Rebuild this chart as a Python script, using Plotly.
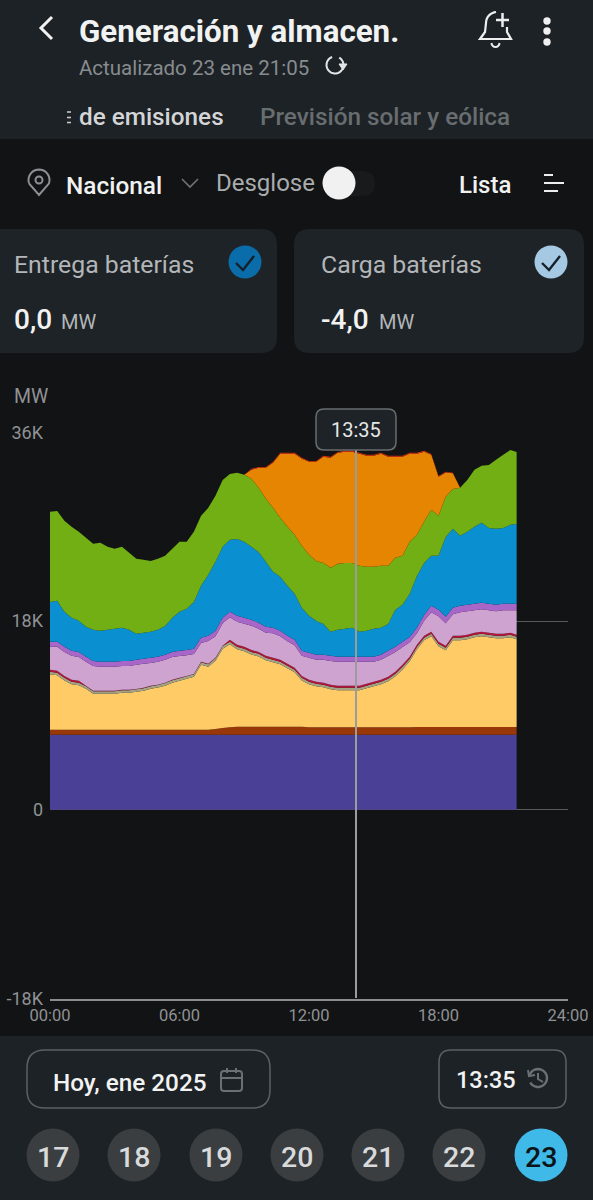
import math
import numpy as np
import plotly.graph_objects as go

W, H = 593, 1200

# Sampling instants of the day, in hours (every 20 minutes, last sample at the feed's end)
hours = [i / 3 for i in range(65)] + [21.62]

# Upper edge of each generation band, MW
total_top = [
    28430, 28520, 27570, 27000, 26520, 25950, 25380, 25470, 25090, 24900,
    25090, 24520, 23950, 23850, 23750, 23950, 24230, 24900, 25570, 25570,
    26520, 28050, 28810, 29960, 31480, 32050, 32150, 31960, 32530, 32720,
    32720, 33200, 34060, 34060, 34060, 33580, 33290, 33290, 33770, 33680,
    34150, 34250, 34250, 34060, 33870, 33870, 34060, 33770, 33770, 33770,
    34060, 34060, 34250, 33960, 31860, 32250, 32150, 30720, 31480, 32440,
    32820, 32910, 33390, 33870, 34340, 34150,
]
wind_top = [
    28430, 28520, 27570, 27000, 26520, 25950, 25380, 25470, 25090, 24900,
    25090, 24520, 23950, 23850, 23750, 23950, 24230, 24900, 25570, 25570,
    26520, 28050, 28810, 29960, 31480, 32050, 32150,
    31960, 31580, 30720, 29670, 28810, 27860, 27000, 26240, 25190, 24330,
    23750, 23560, 23090, 23470, 23560, 23560, 23280, 23180, 23180, 23280,
    23280, 24040, 24230, 25570, 26240, 27480, 28620, 28050, 29860, 30620,
    30720, 31480, 32440, 32820, 32910, 33390, 33870, 34340, 34150,
]
hydro_top = [
    19840, 19940, 18890, 18320, 18030, 17460, 17170, 17080, 17170, 17270,
    17360, 17170, 16790, 16890, 16980, 17170, 17550, 18320, 18890, 19180,
    19840, 21370, 22420, 23660, 25090, 25760, 25850, 25570, 25090, 24610,
    23660, 22710, 22230, 21370, 20610, 19270, 18510, 18030, 17740, 16980,
    17170, 17270, 17360, 16980, 17080, 17270, 17360, 17740, 19080, 19560,
    20610, 22320, 23560, 24230, 24230, 26040, 26810, 26140, 26520, 27000,
    27380, 26900, 26810, 26900, 27190, 27280,
]
thermal_top = [
    16030, 16030, 15550, 15170, 15070, 14600, 14210, 14120, 14120, 14120,
    14210, 14210, 14310, 14410, 14500, 14600, 14790, 15070, 15170, 15260,
    15360, 16410, 16600, 17080, 18320, 18890, 18510, 18320, 18130, 17840,
    17460, 17360, 17080, 16600, 16220, 15170, 14980, 14790, 14790, 14690,
    14600, 14600, 14600, 14600, 14600, 14600, 14790, 15170, 15550, 16030,
    16500, 17360, 18600, 19460, 19080, 18410, 19270, 19460, 19560, 19650,
    19750, 19650, 19560, 19650, 19650, 19650,
]
cogeneration_top = [
    13360, 13260, 12780, 12400, 12310, 11830, 11350, 11350, 11350, 11350,
    11450, 11450, 11540, 11640, 11830, 11930, 12120, 12400, 12590, 12780,
    12970, 14120, 13930, 14500, 15650, 16220, 15740, 15550, 15260, 15070,
    14690, 14500, 14310, 13930, 13550, 12780, 12400, 12210, 12120, 11930,
    11830, 11830, 11830, 11830, 12020, 12210, 12400, 12690, 13170, 13830,
    14600, 15740, 16600, 16980, 16030, 15650, 16600, 16600, 16700, 16890,
    16980, 16890, 16790, 16790, 16890, 16700,
]
coal_top = [
    7630, 7630, 7630, 7630, 7630, 7630, 7630, 7630, 7630, 7630,
    7630, 7630, 7630, 7630, 7630, 7630, 7630, 7630, 7630, 7630,
    7630, 7630, 7650, 7720, 7800, 7880, 7920, 7920, 7920, 7920,
    7920, 7920, 7920, 7920, 7920, 7920, 7870, 7870, 7870, 7870,
    7870, 7870, 7870, 7870, 7870, 7870, 7870, 7870, 7870, 7870,
    7870, 7900, 7900, 7900, 7900, 7900, 7900, 7900, 7900, 7900,
    7900, 7900, 7900, 7900, 7900, 7900,
]

# Thin bands, MW
thermal_band = [
    480, 480, 480, 480, 480, 480, 480, 480, 480, 480,
    480, 480, 480, 480, 480, 480, 480, 480, 500, 500,
    500, 500, 500, 520, 520, 520, 560, 560, 560, 560,
    560, 520, 520, 520, 520, 480, 480, 480, 480, 480,
    480, 480, 480, 480, 480, 480, 480, 500, 500, 500,
    520, 520, 560, 600, 600, 600, 600, 620, 620, 620,
    620, 620, 620, 620, 620, 620,
]
other_band = [
    190, 190, 190, 190, 190, 30, 30, 30, 30, 30,
    30, 30, 30, 30, 30, 30, 30, 30, 30, 30,
    30, 30, 30, 30, 30, 190, 190, 190, 190, 190,
    190, 190, 190, 190, 190, 190, 190, 190, 190, 190,
    190, 190, 190, 190, 190, 190, 190, 190, 190, 190,
    190, 190, 190, 190, 190, 190, 190, 190, 190, 190,
    190, 190, 190, 190, 190, 190,
]
waste_band = [
    240, 240, 240, 240, 240, 240, 240, 240, 240, 240,
    240, 240, 240, 240, 240, 240, 240, 240, 240, 240,
    240, 240, 240, 240, 240, 240, 240, 240, 240, 240,
    240, 240, 240, 240, 240, 240, 240, 240, 240, 240,
    240, 240, 240, 240, 240, 240, 240, 240, 240, 240,
    240, 240, 240, 240, 240, 240, 240, 240, 240, 240,
    240, 240, 240, 240, 240, 240,
]
solar_thermal_band = [
    0, 0, 0, 0, 0, 0, 0, 0, 0, 0,
    0, 0, 0, 0, 0, 0, 0, 0, 0, 0,
    0, 0, 0, 0, 0, 0, 0, 0, 90, 90,
    90, 90, 90, 90, 90, 90, 90, 90, 90, 90,
    90, 90, 90, 90, 90, 90, 90, 90, 90, 90,
    90, 90, 90, 90, 90, 60, 30, 0, 0, 0,
    0, 0, 0, 0, 0, 0,
]
nuclear = [7160] * len(hours)

tick_hours = [0, 6, 12, 18, 24]
tick_hour_labels = ["00:00", "06:00", "12:00", "18:00", "24:00"]
tick_power = [-18000, 0, 18000, 36000]
tick_power_labels = ["-18K", "0", "18K", "36K"]
cursor_label = "13:35"
day_numbers = ["17", "18", "19", "20", "21", "22", "23"]

PAGE = "#121314"
PANEL = "#1D2226"
FONT = "Roboto"

# Bands derived from the edges, bottom to top
a = {k: np.array(v, dtype=float) for k, v in dict(
    total=total_top, wind=wind_top, hydro=hydro_top, thermal=thermal_top,
    cog=cogeneration_top, coal=coal_top, tb=thermal_band, ob=other_band,
    wb=waste_band, stb=solar_thermal_band, nuc=nuclear).items()}
bands = [
    ("Nuclear", a["nuc"], "#4A4196"),
    ("Carbón", a["coal"] - a["nuc"], "#983808"),
    ("Ciclo combinado", a["cog"] - a["ob"] - a["wb"] - a["coal"], "#FFCB66"),
    ("Residuos", a["wb"], "#A3A383"),
    ("Otras", a["ob"], "#B3153A"),
    ("Cogeneración", a["thermal"] - a["tb"] - a["cog"], "#CFA3D0"),
    ("Térmica", a["tb"], "#A866C8"),
    ("Hidráulica", a["hydro"] - a["thermal"], "#0A8FD1"),
    ("Eólica", a["wind"] - a["hydro"], "#72AF14"),
    ("Solar", a["total"] - a["wind"] - a["stb"], "#E58502"),
    ("Termosolar", a["stb"], "#DC2F14"),
]

fig = go.Figure()
for name, values, color in bands:
    fig.add_trace(go.Scatter(
        x=hours, y=np.clip(values, 0, None).tolist(), name=name, mode="none",
        stackgroup="mix", fillcolor=color, hoverinfo="skip", showlegend=False,
    ))


def P(x, y):
    return f"{x / W:.5f} {1 - y / H:.5f}"


shapes = []


def path(d, fill=None, line=None, width=0, layer="above"):
    shapes.append(dict(
        type="path", xref="paper", yref="paper", path=d, layer=layer,
        fillcolor=fill or "rgba(0,0,0,0)",
        line=dict(color=line or "rgba(0,0,0,0)", width=width),
    ))


def rrect(x0, y0, x1, y1, r, fill=None, line=None, width=0, layer="above"):
    d = (f"M {P(x0 + r, y0)} L {P(x1 - r, y0)} Q {P(x1, y0)} {P(x1, y0 + r)} "
         f"L {P(x1, y1 - r)} Q {P(x1, y1)} {P(x1 - r, y1)} L {P(x0 + r, y1)} "
         f"Q {P(x0, y1)} {P(x0, y1 - r)} L {P(x0, y0 + r)} Q {P(x0, y0)} {P(x0 + r, y0)} Z")
    path(d, fill, line, width, layer)


def poly(pts, line, width=2, fill=None, closed=False):
    d = "M " + " L ".join(P(x, y) for x, y in pts) + (" Z" if closed else "")
    path(d, fill, line, width)


def arc(cx, cy, r, a0, a1, n=24, ry=None):
    ry = ry or r
    return [(cx + r * math.cos(math.radians(a0 + (a1 - a0) * i / n)),
             cy + ry * math.sin(math.radians(a0 + (a1 - a0) * i / n))) for i in range(n + 1)]


def circle(cx, cy, r, fill=None, line=None, width=0):
    shapes.append(dict(
        type="circle", xref="paper", yref="paper", x0=(cx - r) / W, x1=(cx + r) / W,
        y0=1 - (cy + r) / H, y1=1 - (cy - r) / H, layer="above",
        fillcolor=fill or "rgba(0,0,0,0)",
        line=dict(color=line or "rgba(0,0,0,0)", width=width),
    ))


notes = []


def text(x, y, s, size, color, weight=400, anchor="left"):
    notes.append(dict(
        xref="paper", yref="paper", x=x / W, y=1 - y / H, text=s, showarrow=False,
        xanchor=anchor, yanchor="middle", align=anchor, borderpad=0, borderwidth=0,
        font=dict(family=FONT, size=size, color=color, weight=weight),
    ))


# Panels behind the header and the date controls
rrect(-5, -5, W + 5, 139, 1, fill=PANEL, layer="below")
rrect(-5, 1036, W + 5, H + 5, 1, fill=PANEL, layer="below")

# Header
poly([(52, 17), (41, 28), (52, 39)], "#F2F2F2", 3)
text(79, 32, "Generación y almacen.", 31.3, "#F1F3F3", 700)
text(79, 68, "Actualizado 23 ene 21:05", 20.5, "#878C8F")
poly(arc(335, 65, 8.5, -60, 250), "#E3E5E6", 2)
poly([(339, 64), (347, 64), (343, 70)], "#E3E5E6", 1, fill="#E3E5E6", closed=True)
# Bell with plus sign
poly([(502, 39), (480, 39), (485, 32), (486, 23)] + arc(497, 23, 11, 180, 265, 8), "#EDEFEF", 2.2)
poly([(502, 39), (511, 39), (507, 32), (507, 27)], "#EDEFEF", 2.2)
poly([(496, 20), (509, 20)], "#EDEFEF", 2.5)
poly([(502.5, 13), (502.5, 27)], "#EDEFEF", 2.5)
poly(arc(495.5, 43, 4, 0, 180, 8), "#EDEFEF", 2)
for cy in (21, 31, 42):
    circle(547, cy, 3.7, fill="#F0F0F0")

# Tabs, the previous label runs off under the fade
poly([(67, 112), (71, 112)], "#C6C8C9", 1.6)
poly([(67, 117.5), (71, 117.5)], "#C6C8C9", 1.6)
poly([(67, 122.5), (71, 122.5)], "#C6C8C9", 1.6)
text(79, 116, "de emisiones", 24.3, "#D3D5D6", 500)
text(260, 116, "Previsión solar y eólica", 24.3, "#686D70", 500)

# Filter row
pin = arc(39, 180, 10.5, 160, 380, 20)
poly(pin + [(39, 195), pin[0]], "#8D9193", 2)
circle(39, 180, 3.5, line="#8D9193", width=2)
text(66, 185, "Nacional", 24.4, "#F0F1F1", 500)
poly([(182, 179), (190, 187), (198, 179)], "#6F7375", 1.6)
text(216, 183, "Desglose", 24, "#A9ACAE")
rrect(325, 171, 375, 196, 12.5, fill="#191A1B")
circle(339, 183, 16.5, fill="#F1F1F1")
text(459, 185, "Lista", 24, "#F0F1F1", 500)
poly([(544, 175), (553, 175)], "#EDEDED", 2)
poly([(544, 183), (564, 183)], "#EDEDED", 2)
poly([(544, 191), (558, 191)], "#EDEDED", 2)

# Battery cards
rrect(-20, 229, 277, 353, 16, fill="#1E2327")
rrect(294, 229, 584, 353, 16, fill="#1E2327")
text(14, 264.5, "Entrega baterías", 24.8, "#B3B6B8")
text(321, 264.5, "Carga baterías", 24.8, "#B3B6B8")
circle(245, 262, 16.5, fill="#0A6CA8")
circle(551, 262, 16.5, fill="#A5C9E3")
poly([(236, 263), (243, 270), (254, 256)], "#16202A", 2.4)
poly([(542, 263), (549, 270), (560, 256)], "#16202A", 2.4)
text(14, 320, "0,0", 28, "#F2F2F2", 500)
text(61, 322, "MW", 20, "#B3B6B8")
text(321, 320, "-4,0", 28, "#F2F2F2", 500)
text(379, 322, "MW", 20, "#B3B6B8")

# Unit label, cursor and its time badge
text(14, 396, "MW", 19.5, "#8F9294")
poly([(356, 448), (356, 998)], "#9A9C9E", 2)
rrect(316, 409, 396, 450, 8, fill="#1E2327", line="#696D70", width=1.5)
text(356, 430, cursor_label, 20, "#E6E8E8", 400, "center")

# Date controls
rrect(27, 1050, 270, 1108, 18, line="#5C6063", width=1.5)
text(53, 1082, "Hoy, ene 2025", 24.3, "#F2F3F3", 500)
rrect(221, 1071, 242, 1091, 3, line="#6C7073", width=2)
poly([(221, 1078), (242, 1078)], "#6C7073", 2)
poly([(227, 1068), (227, 1073)], "#6C7073", 2)
poly([(236, 1068), (236, 1073)], "#6C7073", 2)
rrect(439, 1050, 566, 1108, 12, line="#5C6063", width=1.5)
text(456, 1080, "13:35", 23.5, "#F2F3F3", 500)
poly(arc(538, 1078, 9, -170, 150), "#6C7073", 2.4)
poly([(528, 1070), (529, 1076), (535, 1075)], "#6C7073", 2)
poly([(538, 1073), (538, 1079), (543, 1082)], "#6C7073", 2)

day_centres = [53, 134, 216, 297, 378, 459, 541]
for cx, label in zip(day_centres, day_numbers):
    last = label == day_numbers[-1]
    circle(cx, 1155, 26.5, fill="#3FB9E8" if last else "#3A3E41")
    text(cx, 1157, label, 28.5, "#0C1418" if last else "#D8DADB", 500, "center")

fig.update_layout(
    width=W, height=H, autosize=False,
    margin=dict(l=0, r=0, t=0, b=0, pad=0, autoexpand=False),
    paper_bgcolor=PAGE, plot_bgcolor=PAGE,
    showlegend=False, hovermode=False,
    shapes=shapes, annotations=notes,
    xaxis=dict(
        domain=[50 / W, 568 / W], range=[0, 24],
        tickmode="array", tickvals=tick_hours, ticktext=tick_hour_labels,
        tickfont=dict(family=FONT, size=16.5, color="#8F9294"),
        ticklabelstandoff=1,
        showgrid=False, zeroline=False, showline=True, linecolor="#8A8C8E", linewidth=2,
        ticks="", ticklen=0, fixedrange=True,
    ),
    yaxis=dict(
        domain=[1 - 998.5 / H, 1 - 432.5 / H], range=[-18000, 36000],
        tickmode="array", tickvals=tick_power, ticktext=tick_power_labels,
        tickfont=dict(family=FONT, size=18, color="#8F9294"),
        ticklabelstandoff=6,
        showgrid=True, gridcolor="#57595B", gridwidth=1, zeroline=False, showline=False,
        ticks="", ticklen=0, fixedrange=True,
    ),
)

fig.write_html("out.html", config=dict(displayModeBar=False, responsive=False))
